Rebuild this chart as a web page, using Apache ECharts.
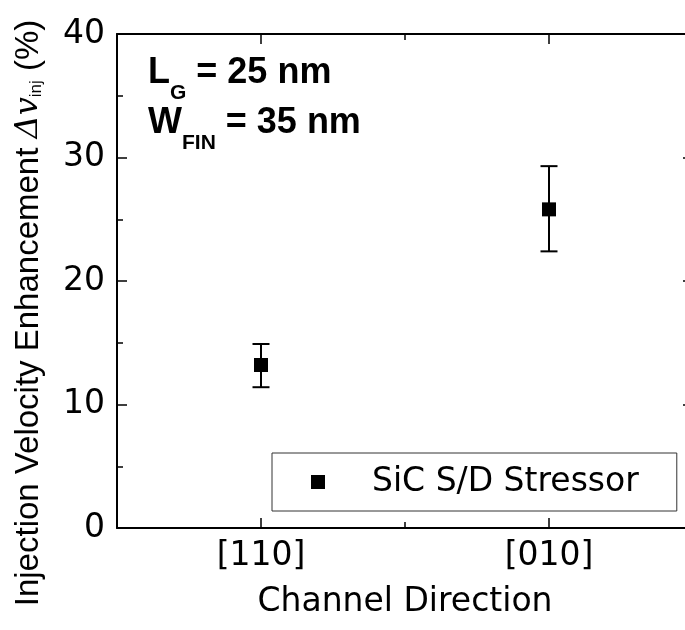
<!DOCTYPE html>
<html>
<head>
<meta charset="utf-8">
<script src="https://cdn.jsdelivr.net/npm/echarts@6/dist/echarts.min.js"></script>
<style>
  html, body { margin: 0; padding: 0; background: #fff; }
  #chart { width: 685px; height: 630px; }
</style>
</head>
<body>
<div id="chart"></div>
<script>
// Channel directions on the x axis
const directions = ['[110]', '[010]'];
// Injection velocity enhancement (%) and its error range
const enhancement = [13.2, 25.8];
const errLow = [11.4, 22.4];
const errHigh = [14.9, 29.3];
// Y axis range and ticks
const yMin = 0, yMax = 40, yStep = 10;

const seriesName = 'SiC S/D Stressor';
const labelFont = 'DejaVu Sans';
const black = '#000';

const chart = echarts.init(document.getElementById('chart'), null, { renderer: 'canvas' });

// The frame runs a little past the right edge of the canvas
const grid = { left: 117, top: 34, width: 576, height: 494, outerBoundsMode: 'none', containLabel: false };

function catAxis(position, aligned, tickLen, show) {
  return {
    type: 'category',
    position: position,
    data: directions,
    boundaryGap: true,
    axisLine: { show: show, onZero: false, lineStyle: { color: black, width: 2 } },
    axisTick: { show: true, inside: true, alignWithLabel: aligned, length: tickLen,
                lineStyle: { color: black, width: 1.5 } },
    axisLabel: { show: false },
    splitLine: { show: false }
  };
}

const bottomMain = catAxis('bottom', true, 10, true);
bottomMain.axisLabel = { show: true, color: black, fontFamily: labelFont, fontSize: 33, margin: 12 };
bottomMain.name = 'Channel Direction';
bottomMain.nameLocation = 'middle';
bottomMain.nameGap = 58;
bottomMain.nameTextStyle = { color: black, fontFamily: labelFont, fontSize: 33 };

const errorData = directions.map((d, i) => [i, errLow[i], errHigh[i]]);

const option = {
  animation: false,
  backgroundColor: '#fff',
  grid: grid,
  xAxis: [
    bottomMain,
    catAxis('bottom', false, 6, false),
    catAxis('top', true, 10, true),
    catAxis('top', false, 6, false)
  ],
  yAxis: [
    {
      type: 'value', position: 'left', min: yMin, max: yMax, interval: yStep,
      axisLine: { show: true, lineStyle: { color: black, width: 2 } },
      axisTick: { show: true, inside: true, length: 10, lineStyle: { color: black, width: 1.5 } },
      minorTick: { show: true, splitNumber: 2, length: 6, lineStyle: { color: black, width: 1.5 } },
      splitLine: { show: false },
      axisLabel: { color: black, fontFamily: labelFont, fontSize: 33, margin: 12 },
      name: '{n|Injection Velocity Enhancement }{g|\u0394v}{s|inj}{n| (%)}',
      nameLocation: 'middle',
      nameGap: 72,
      nameRotate: 90,
      nameTextStyle: {
        padding: [0, 64, 0, 0],
        rich: {
          n: { fontFamily: 'Liberation Sans', fontSize: 33, color: black },
          g: { fontFamily: 'DejaVu Serif', fontStyle: 'italic', fontSize: 32, color: black },
          s: { fontFamily: 'Liberation Sans', fontSize: 17, color: black, padding: [16, 0, 0, 0] }
        }
      }
    },
    {
      type: 'value', position: 'right', min: yMin, max: yMax, interval: yStep,
      axisLine: { show: true, lineStyle: { color: black, width: 2 } },
      axisTick: { show: true, inside: true, length: 10, lineStyle: { color: black, width: 1.5 } },
      minorTick: { show: true, splitNumber: 2, length: 6, lineStyle: { color: black, width: 1.5 } },
      splitLine: { show: false },
      axisLabel: { show: false }
    }
  ],
  legend: {
    data: [seriesName],
    left: 272, top: 453,
    orient: 'horizontal',
    icon: 'rect',
    itemWidth: 14, itemHeight: 14,
    padding: [9, 38, 9, 39],
    borderColor: '#333', borderWidth: 1,
    itemStyle: { color: black, opacity: 1 },
    textStyle: { color: black, fontFamily: labelFont, fontSize: 33, lineHeight: 40,
                 padding: [0, 0, 0, 42] }
  },
  graphic: [
    {
      type: 'text', left: 148, top: 42,
      style: {
        text: '{b|L}{s|G}{b| = 25 nm}\n{b|W}{s|FIN}{b| = 35 nm}',
        rich: {
          b: { fontFamily: 'Liberation Sans', fontWeight: 'bold', fontSize: 36, lineHeight: 50, fill: black },
          s: { fontFamily: 'Liberation Sans', fontWeight: 'bold', fontSize: 21, lineHeight: 50, fill: black,
               padding: [41, 0, 0, 0] }
        }
      }
    }
  ],
  series: [
    {
      name: 'error',
      type: 'custom',
      xAxisIndex: 0, yAxisIndex: 0,
      data: errorData,
      z: 2,
      renderItem: function (params, api) {
        const lo = api.coord([api.value(0), api.value(1)]);
        const hi = api.coord([api.value(0), api.value(2)]);
        const w = 8.5;
        const st = { stroke: black, lineWidth: 2 };
        return {
          type: 'group',
          children: [
            { type: 'line', shape: { x1: hi[0], y1: hi[1], x2: lo[0], y2: lo[1] }, style: st },
            { type: 'line', shape: { x1: hi[0] - w, y1: hi[1], x2: hi[0] + w, y2: hi[1] }, style: st },
            { type: 'line', shape: { x1: lo[0] - w, y1: lo[1], x2: lo[0] + w, y2: lo[1] }, style: st }
          ]
        };
      }
    },
    {
      name: seriesName,
      type: 'scatter',
      xAxisIndex: 0, yAxisIndex: 0,
      symbol: 'rect',
      symbolSize: 14,
      itemStyle: { color: black, opacity: 1 },
      data: enhancement,
      z: 3
    }
  ]
};

chart.setOption(option);
</script>
</body>
</html>
